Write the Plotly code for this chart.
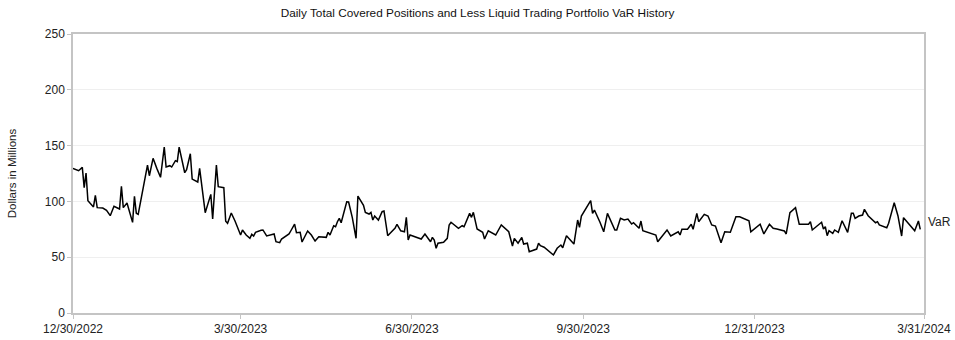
import pandas as pd
import plotly.graph_objects as go

start_date = "2022-12-30"
# days since start date for each observation
day_offsets = [
    0, 3, 5, 6, 7, 8, 11, 12, 13, 16, 18, 20, 22, 25, 26, 27, 29, 32, 33, 34,
    35, 38, 40, 41, 43, 45, 47, 49, 50, 52, 53, 55, 56, 57, 60, 61, 63, 64, 67, 68,
    71, 74, 75, 77, 78, 81, 82, 83, 85, 87, 89, 90, 91, 93, 95, 96, 97, 98, 101, 102,
    104, 108, 109, 111, 112, 116, 117, 119, 120, 122, 123, 126, 128, 130, 132, 136, 137, 138, 140, 141,
    142, 143, 144, 147, 148, 150, 152, 153, 156, 157, 159, 160, 161, 162, 164, 166, 167, 169, 173, 174,
    176, 178, 179, 180, 181, 184, 185, 187, 189, 192, 193, 194, 195, 196, 199, 201, 202, 203, 207, 209,
    210, 213, 214, 215, 217, 220, 221, 223, 227, 230, 234, 236, 237, 239, 241, 242, 244, 245, 249, 250,
    251, 253, 258, 260, 262, 263, 265, 269, 271, 272, 273, 276, 277, 278, 279, 280, 283, 285, 287, 291,
    292, 294, 296, 298, 300, 301, 304, 305, 306, 308, 313, 314, 319, 321, 325, 326, 327, 330, 332, 333,
    335, 336, 339, 341, 343, 345, 348, 350, 353, 356, 358, 363, 364, 369, 371, 374, 376, 378, 382, 383,
    385, 388, 390, 395, 396, 397, 402, 403, 404, 405, 406, 408, 409, 411, 413, 416, 418, 419, 420, 422,
    424, 425, 427, 431, 432, 433, 437, 438, 441, 443, 445, 446, 452, 454, 455,
]
var_values = [
    129.6, 127.5, 130.5, 112.3, 125.4, 100.6, 95.0, 105.5, 94.4, 94.0, 92.0, 87.2, 95.6, 93.2, 113.5, 94.4, 98.6, 81.2, 104.5, 89.3,
    88.4, 113.2, 132.6, 123.0, 138.6, 129.6, 121.6, 148.7, 130.8, 132.0, 130.8, 136.5, 135.6, 148.7, 125.7, 128.4, 142.7, 120.0, 117.4, 129.6,
    89.9, 106.3, 84.2, 132.6, 113.2, 112.3, 82.2, 80.4, 89.6, 82.4, 73.7, 69.9, 74.4, 69.9, 66.9, 70.5, 69.0, 72.3, 74.1, 74.4,
    69.0, 70.8, 63.9, 63.0, 66.3, 70.8, 73.7, 79.7, 72.0, 72.3, 63.6, 73.5, 69.9, 64.5, 68.4, 67.8, 72.3, 69.9, 78.2, 77.3,
    81.8, 84.8, 80.9, 99.7, 99.5, 85.4, 66.9, 104.8, 96.5, 90.2, 88.7, 90.2, 83.3, 86.9, 83.3, 90.8, 91.4, 69.3, 76.2, 79.5,
    73.7, 72.8, 85.7, 65.4, 69.9, 68.4, 67.8, 66.3, 70.8, 63.9, 67.8, 65.4, 58.0, 62.5, 63.4, 66.9, 78.9, 81.3, 75.9, 78.2,
    77.3, 89.3, 85.7, 90.2, 75.3, 72.3, 66.3, 73.7, 69.9, 78.9, 72.8, 60.0, 66.9, 62.5, 67.8, 61.8, 62.5, 54.9, 57.3, 62.5,
    60.3, 58.9, 52.0, 58.0, 60.9, 58.5, 69.3, 61.8, 83.3, 76.8, 86.9, 95.3, 97.7, 100.6, 89.3, 92.3, 81.3, 72.8, 89.3, 74.4,
    74.4, 84.8, 83.3, 84.2, 79.7, 80.9, 75.9, 82.4, 73.7, 72.8, 69.9, 63.9, 74.4, 69.0, 72.8, 69.9, 75.0, 75.0, 79.5, 75.0,
    89.3, 81.8, 88.4, 86.9, 78.9, 77.9, 63.0, 72.8, 72.3, 86.3, 86.3, 82.7, 72.8, 79.5, 70.8, 79.5, 75.9, 75.3, 73.5, 70.8,
    89.9, 94.4, 79.5, 79.5, 81.8, 74.4, 81.3, 75.3, 77.3, 69.3, 73.7, 71.4, 74.4, 72.3, 82.7, 72.3, 89.3, 89.3, 84.8, 86.9,
    87.8, 92.9, 87.2, 80.9, 81.8, 78.9, 76.4, 80.4, 98.8, 87.2, 69.0, 85.4, 73.7, 82.4, 75.0,
]
series_name = "VaR"
tick_dates = ["2022-12-30", "2023-03-30", "2023-06-30", "2023-09-30", "2023-12-31", "2024-03-31"]
tick_labels = ["12/30/2022", "3/30/2023", "6/30/2023", "9/30/2023", "12/31/2023", "3/31/2024"]
y_ticks = [0, 50, 100, 150, 200, 250]

dates = pd.to_datetime(start_date) + pd.to_timedelta(day_offsets, unit="D")

font_family = "Liberation Sans, Arial, sans-serif"
axis_color = "#c4c4c4"

fig = go.Figure()
fig.add_trace(go.Scatter(
    x=dates, y=var_values, mode="lines", name=series_name,
    line=dict(color="#000000", width=1.5),
))
fig.add_annotation(
    x=dates[-1], y=var_values[-1], xref="x", yref="y",
    text=series_name, showarrow=False, xanchor="left", yanchor="middle",
    xshift=6, yshift=7, font=dict(size=12, color="#222222", family=font_family),
)
fig.update_layout(
    width=955, height=340,
    margin=dict(l=73, r=31, t=34, b=27, autoexpand=False),
    paper_bgcolor="white", plot_bgcolor="white",
    showlegend=False,
    font=dict(family=font_family, size=12, color="#222222"),
    title=dict(
        text="Daily Total Covered Positions and Less Liquid Trading Portfolio VaR History",
        x=0.5, xanchor="center", y=0.962, yanchor="middle",
        font=dict(size=11.8, color="#111111", family=font_family),
    ),
    xaxis=dict(
        type="date", automargin=False,
        range=[tick_dates[0], tick_dates[-1]],
        tickvals=tick_dates, ticktext=tick_labels,
        showgrid=False, zeroline=False,
        showline=True, linecolor=axis_color, linewidth=1.5, mirror=True,
        ticks="outside", ticklen=4, tickcolor=axis_color,
        tickfont=dict(size=12),
    ),
    yaxis=dict(
        range=[0, 250], tickvals=y_ticks, automargin=False,
        showgrid=True, gridcolor="#efefef", gridwidth=1,
        zeroline=False,
        showline=True, linecolor=axis_color, linewidth=1.5, mirror=True,
        ticks="outside", ticklen=4, tickcolor=axis_color,
        tickfont=dict(size=12),
        title=dict(text="Dollars in Millions", font=dict(size=11.5), standoff=26),
    ),
)
fig.write_html("out.html")
